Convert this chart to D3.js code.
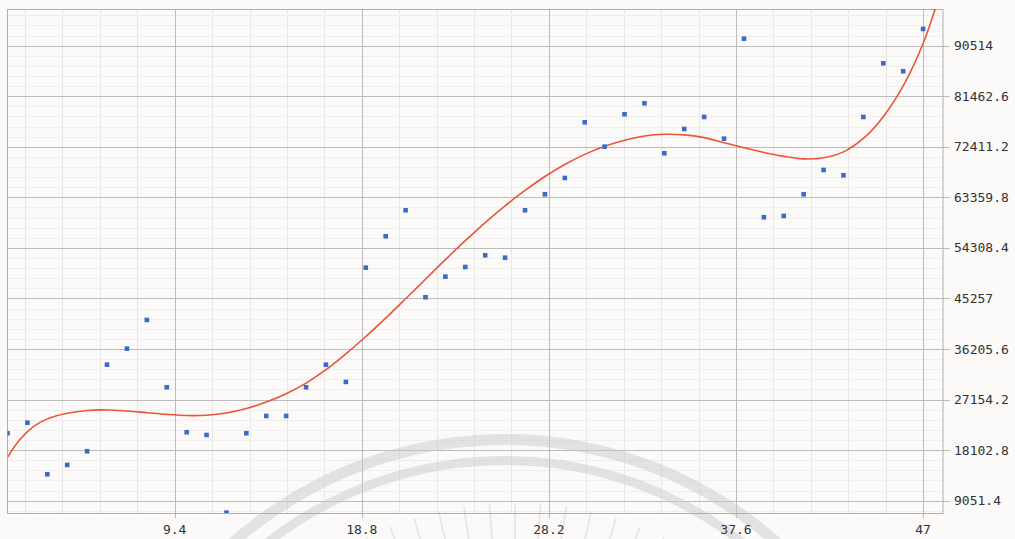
<!DOCTYPE html>
<html>
<head>
<meta charset="utf-8">
<script src="https://cdn.jsdelivr.net/npm/d3@7"></script>
<style>
  html, body { margin: 0; padding: 0; background: #fbfaf9; }
  svg { display: block; }
  .tick-label { font-family: "DejaVu Sans Mono", monospace; font-size: 13px; fill: #333; }
</style>
</head>
<body>
<svg id="chart" width="1015" height="539"></svg>
<script>
// Observations: x index and measured value
const obsX = [1,2,3,4,5,6,7,8,9,10,11,12,13,14,15,16,17,18,19,20,21,22,23,24,25,26,27,28,29,30,31,32,33,34,35,36,37,38,39,40,41,42,43,44,45,46,47];
const obsY = [21125,23023,13786,15451,17903,33407,36271,41409,29361,21305,20821,6912,21125,24223,24223,29361,33407,30310,50772,56393,61047,45473,49160,50897,52991,52562,61047,63912,66830,76801,72433,78233,80202,71251,75602,77750,73865,91767,59794,60027,63912,68262,67313,77750,87363,85931,93504];

// Fitted trend line, sampled along x
const fitX = [1,1.6,2.3,3,4,5,6,7,8,9,10,11,12,13,14,15,16,17,18,19,20,21,22,23,24,25,26,27,28,29,30,31,32,33,34,35,36,37,38,39,40,41,42,43,44,45,46,47,47.6,48];
const fitY = [16800,19900,22300,23700,24700,25200,25300,25100,24800,24500,24300,24350,24750,25550,26700,28200,30100,32500,35350,38450,41750,45200,48700,52200,55600,58850,61850,64600,67100,69250,71050,72500,73600,74350,74650,74550,74050,73150,72250,71400,70700,70250,70450,71500,73900,77800,83300,90900,97000,101300];

// Axis tick labels
const xTickLabels = ["9.4","18.8","28.2","37.6","47"];
const yTickLabels = ["9051.4","18102.8","27154.2","36205.6","45257","54308.4","63359.8","72411.2","81462.6","90514"];

const xDomain = [1, 48];
const yDomain = [6850, 97080];

const svg = d3.select("#chart");
const plotL = 7.5, plotR = 943, plotT = 9, plotB = 513;

const x = d3.scaleLinear().domain(xDomain).range([plotL, plotR]);
const y = d3.scaleLinear().domain(yDomain).range([plotB, plotT]);

const xMajor = xTickLabels.map(Number);
const yMajor = yTickLabels.map(Number);
const xStep = xMajor[0] / 5;
const yStep = yMajor[0] / 5;
const xMinor = d3.range(xStep, xDomain[1], xStep).filter(v => v > xDomain[0]);
const yMinor = d3.range(yStep, yDomain[1], yStep).filter(v => v > yDomain[0]);

svg.append("defs").append("clipPath").attr("id", "plot-clip")
  .append("rect").attr("x", plotL).attr("y", plotT).attr("width", plotR - plotL).attr("height", plotB - plotT);

// Minor grid
const grid = svg.append("g");
grid.selectAll(".vminor").data(xMinor).join("line")
  .attr("x1", d => Math.round(x(d)) + 0.5).attr("x2", d => Math.round(x(d)) + 0.5)
  .attr("y1", plotT).attr("y2", plotB)
  .attr("stroke", "#e9e6e6").attr("stroke-width", 1);
grid.selectAll(".hminor").data(yMinor).join("line")
  .attr("y1", d => Math.round(y(d)) + 0.5).attr("y2", d => Math.round(y(d)) + 0.5)
  .attr("x1", plotL).attr("x2", plotR)
  .attr("stroke", "#f0eded").attr("stroke-width", 1);

// Seal watermark behind the data
const wm = svg.append("g").attr("opacity", 0.5);
const arc = d3.arc();
wm.append("path")
  .attr("transform", "translate(505,850)")
  .attr("d", arc({innerRadius: 405, outerRadius: 416, startAngle: -1.2, endAngle: 1.2}))
  .attr("fill", "#cccccc");
wm.append("path")
  .attr("transform", "translate(505,845)")
  .attr("d", arc({innerRadius: 380, outerRadius: 389, startAngle: -1.1, endAngle: 1.1}))
  .attr("fill", "#cccccc");
const rays = d3.range(-0.45, 0.46, 0.075);
wm.selectAll(".ray").data(rays).join("line")
  .attr("x1", d => 515 + Math.sin(d) * 300).attr("y1", d => 845 - Math.cos(d) * 300)
  .attr("x2", d => 515 + Math.sin(d) * 342).attr("y2", d => 845 - Math.cos(d) * 342)
  .attr("stroke", "#d2d2d2").attr("stroke-width", 1.6);

// Major grid
grid.selectAll(".vmajor").data(xMajor).join("line")
  .attr("x1", d => Math.round(x(d)) + 0.5).attr("x2", d => Math.round(x(d)) + 0.5)
  .attr("y1", plotT).attr("y2", plotB + 5)
  .attr("stroke", "#bdbaba").attr("stroke-width", 1);
grid.selectAll(".hmajor").data(yMajor).join("line")
  .attr("y1", d => Math.round(y(d)) + 0.5).attr("y2", d => Math.round(y(d)) + 0.5)
  .attr("x1", plotL).attr("x2", plotR + 7)
  .attr("stroke", "#bdbaba").attr("stroke-width", 1);

// Plot frame
svg.append("rect")
  .attr("x", plotL).attr("y", plotT + 0.5).attr("width", plotR - plotL).attr("height", plotB - plotT)
  .attr("fill", "none").attr("stroke", "#b0adad").attr("stroke-width", 1);

// Axis labels
svg.append("g").selectAll("text").data(xTickLabels).join("text")
  .attr("class", "tick-label")
  .attr("x", d => x(+d)).attr("y", 534)
  .attr("text-anchor", "middle")
  .text(d => d);
svg.append("g").selectAll("text").data(yTickLabels).join("text")
  .attr("class", "tick-label")
  .attr("x", 954).attr("y", d => y(+d))
  .attr("dy", "0.35em")
  .text(d => d);

const plot = svg.append("g").attr("clip-path", "url(#plot-clip)");

// Trend line
const line = d3.line().x(d => x(d[0])).y(d => y(d[1])).curve(d3.curveCatmullRom);
plot.append("path")
  .datum(d3.zip(fitX, fitY))
  .attr("d", line)
  .attr("fill", "none")
  .attr("stroke", "#ea5538")
  .attr("stroke-width", 1.6);

// Observation markers
const s = 4.6;
plot.selectAll(".pt").data(d3.zip(obsX, obsY)).join("rect")
  .attr("x", d => x(d[0]) - s / 2).attr("y", d => y(d[1]) - s / 2)
  .attr("width", s).attr("height", s)
  .attr("fill", "#3b6bc6");
</script>
</body>
</html>
